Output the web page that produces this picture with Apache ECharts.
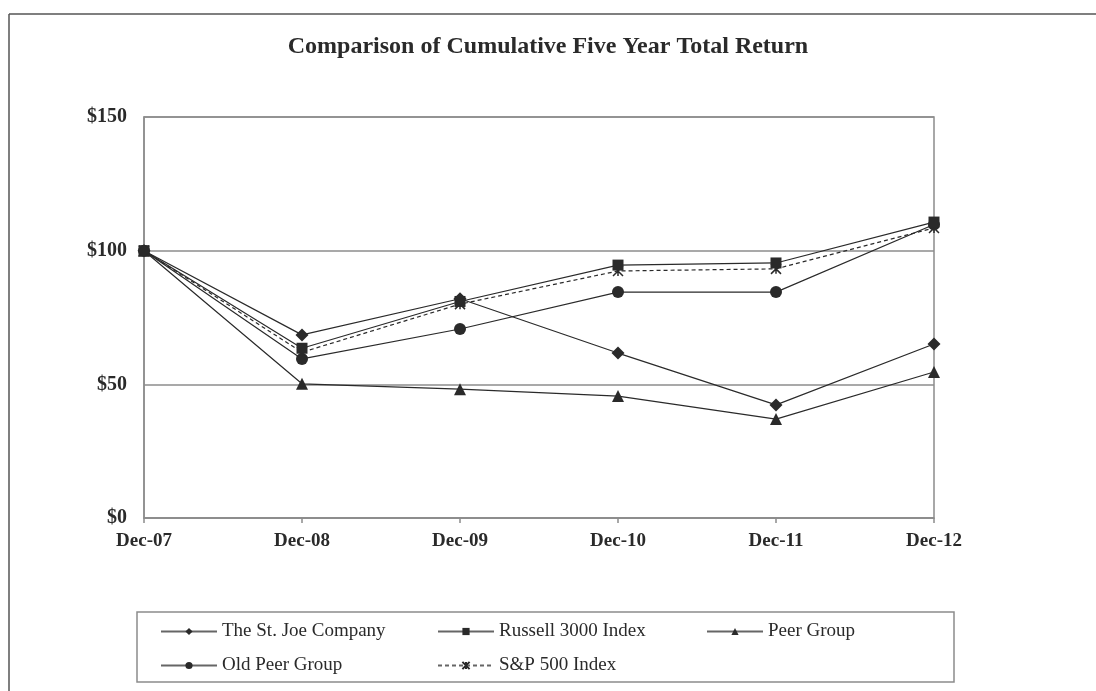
<!DOCTYPE html>
<html>
<head>
<meta charset="utf-8">
<script src="https://cdn.jsdelivr.net/npm/echarts@6/dist/echarts.min.js"></script>
<style>
  html, body { margin: 0; padding: 0; background: #fff; }
  #chart { width: 1096px; height: 691px; }
</style>
</head>
<body>
<div id="chart"></div>
<script>
const categories = ['Dec-07', 'Dec-08', 'Dec-09', 'Dec-10', 'Dec-11', 'Dec-12'];
const stJoe = [100, 68.5, 82, 61.7, 42.3, 65.1];
const russell3000 = [100, 63.5, 81, 94.6, 95.4, 110.7];
const peerGroup = [100, 50.2, 48.2, 45.6, 37.0, 54.6];
const oldPeerGroup = [100, 59.5, 70.7, 84.5, 84.5, 109.8];
const sp500 = [100, 62, 80, 92.4, 93.2, 108.5];
const seriesNames = ['The St. Joe Company', 'Russell 3000 Index', 'Peer Group', 'Old Peer Group', 'S&P 500 Index'];
const yTicks = [0, 50, 100, 150];

const ink = '#2a2a2a';
const gray = '#8c8c8c';
const serif = '"Liberation Serif", "DejaVu Serif", serif';
const xSym = 'path://M0,0L10,10M10,0L0,10M5,0L5,10';

function lineSeries(name, data, symbol, size, extra) {
  return Object.assign({
    name: name,
    type: 'line',
    data: data,
    symbol: symbol,
    symbolSize: size,
    showSymbol: true,
    lineStyle: { color: ink, width: 1.2 },
    itemStyle: { color: ink, borderWidth: 0 },
    emphasis: { disabled: true },
    animation: false
  }, extra || {});
}

const chart = echarts.init(document.getElementById('chart'), null, { renderer: 'canvas' });

const legendBase = {
  itemWidth: 56,
  itemHeight: 9,
  itemGap: 0,
  padding: 0,
  textStyle: { fontFamily: serif, fontSize: 19, color: ink },
  lineStyle: { color: '#666' },
  inactiveColor: ink,
  selectedMode: false
};

chart.setOption({
  backgroundColor: '#fff',
  title: {
    text: 'Comparison of Cumulative Five Year Total Return',
    left: 'center',
    top: 30,
    textStyle: { fontFamily: serif, fontSize: 24, fontWeight: 'bold', color: ink }
  },
  grid: {
    left: 144, right: 162, top: 117, bottom: 173,
    show: true, borderColor: gray, borderWidth: 1.5, backgroundColor: 'transparent'
  },
  xAxis: {
    type: 'category',
    data: categories,
    boundaryGap: false,
    axisLine: { lineStyle: { color: gray, width: 1.5 } },
    axisTick: { show: true, length: 5, alignWithLabel: true, lineStyle: { color: gray, width: 1.5 } },
    axisLabel: { fontFamily: serif, fontSize: 19, fontWeight: 'bold', color: ink, margin: 14 },
    splitLine: { show: false }
  },
  yAxis: {
    type: 'value',
    min: yTicks[0],
    max: yTicks[yTicks.length - 1],
    interval: 50,
    axisLine: { show: true, lineStyle: { color: gray, width: 1.5 } },
    axisTick: { show: false },
    axisLabel: { fontFamily: serif, fontSize: 20, fontWeight: 'bold', color: ink, margin: 17, formatter: v => '$' + v },
    splitLine: { show: true, lineStyle: { color: gray, width: 1.5 } }
  },
  legend: [
    Object.assign({}, legendBase, { data: [seriesNames[0]], left: 160, top: 622 }),
    Object.assign({}, legendBase, { data: [seriesNames[1]], left: 437, top: 622 }),
    Object.assign({}, legendBase, { data: [seriesNames[2]], left: 706, top: 622 }),
    Object.assign({}, legendBase, { data: [seriesNames[3]], left: 160, top: 656 }),
    Object.assign({}, legendBase, { data: [seriesNames[4]], left: 437, top: 656 })
  ],
  graphic: [
    { type: 'rect', shape: { x: 137, y: 612, width: 817, height: 70 }, style: { fill: 'none', stroke: gray, lineWidth: 1.5 }, silent: true },
    { type: 'line', shape: { x1: 9, y1: 14, x2: 1096, y2: 14 }, style: { stroke: '#555', lineWidth: 1.5 }, silent: true },
    { type: 'line', shape: { x1: 9, y1: 14, x2: 9, y2: 691 }, style: { stroke: '#555', lineWidth: 1.5 }, silent: true }
  ],
  series: [
    lineSeries(seriesNames[3], oldPeerGroup, 'circle', 12),
    lineSeries(seriesNames[2], peerGroup, 'triangle', 12),
    lineSeries(seriesNames[4], sp500, xSym, 10, {
      lineStyle: { color: ink, width: 1.2, type: [4, 3] },
      itemStyle: { color: 'transparent', borderColor: ink, borderWidth: 1.5 }
    }),
    lineSeries(seriesNames[1], russell3000, 'rect', 11),
    lineSeries(seriesNames[0], stJoe, 'diamond', 13)
  ]
});
</script>
</body>
</html>
